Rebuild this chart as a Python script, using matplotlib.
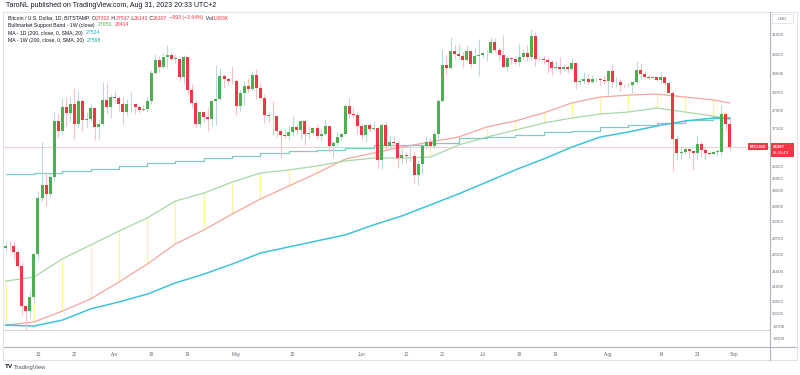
import matplotlib
matplotlib.use('Agg')
import matplotlib.pyplot as plt
from matplotlib.ticker import NullLocator
import numpy as np
import pandas as pd

plt.rcParams['font.family'] = ['Liberation Sans', 'DejaVu Sans']

# daily BTC/USD candles, Mar 5 - Aug 31 2023
dates = pd.date_range('2023-03-05', '2023-08-31', freq='D').to_numpy()

opens = [
    22350, 22430, 22410, 22200, 21700, 20360, 20190, 20630, 22140, 24200, 24750, 24380, 25050, 27440,
    26970, 28040, 27780, 28170, 27300, 28330, 27480, 27490, 27990, 27140, 27270, 28350, 28030,
    28480, 28460, 28200, 27800, 28170, 28170, 28040, 27920, 27950, 28330, 29650, 30240, 29900, 30400,
    30490, 30320, 30320, 29450, 30400, 28820, 28250, 27280, 27820, 27590, 27520, 28300, 28420, 29470,
    29340, 29250,
    29230, 28070, 28680, 29030, 28850, 29530, 28900, 28450, 27690, 27650, 27620, 26990, 26800, 26780,
    26930, 27170, 27030, 27400, 26830, 26890, 27120, 26750, 26850, 27220, 26330, 26480, 26720, 26870,
    28080, 27740, 27700,
    27220, 26820, 27250, 27070, 27120, 25760, 27240, 26350, 26500, 26480, 25850, 25940, 25900, 25930,
    25120, 25580, 26340, 26510, 26340, 26850, 28310, 30000, 29890, 30690, 30550, 30470, 30270, 30690,
    30080, 30450,
    30480, 30590, 30620, 31160, 30770, 30510, 29900, 30350, 30290, 30170, 30410, 30620, 30390, 31470,
    30320, 30300, 30250, 30140, 29860, 29910, 29800, 29910, 29800, 30090, 29180, 29230, 29350, 29220,
    29320, 29350, 29280,
    29230, 29700, 29180, 29180, 29080, 29050, 29040, 29180, 29770, 29580, 29430, 29400, 29420, 29280,
    29420, 29170, 28700, 26620, 26050, 26100, 26190, 26120, 26040, 26430, 26160, 26050, 26010, 26090,
    26100, 27720, 27302,
]
highs = [
    22600, 22600, 22550, 22270, 21830, 20370, 20860, 22170, 24500, 26500, 25250, 25200, 27800, 27750,
    28450, 28500, 28500, 28900, 28780, 28400, 27800, 28200, 28050, 27500, 29180, 29170, 28650,
    28800, 28530, 28480, 28420, 28750, 28200, 28120, 28150, 28500, 29770, 30550, 30440, 30600, 31000,
    30600, 30560, 30320, 30480, 30420, 29090, 28380, 27880, 27820, 28000, 28380, 30000, 29880, 29570,
    29450, 29950,
    29330, 28880, 29250, 29370, 29700, 29820, 29150, 28630, 27840, 28330, 27630, 27050, 27050, 27180,
    27650, 27300, 27480, 27470, 27190, 27150, 27270, 27060, 27500, 27220, 26530, 26930, 26900, 28200,
    28450, 28050, 27830,
    27340, 27300, 27330, 27440, 27140, 27350, 27370, 26800, 26780, 26530, 26200, 26100, 26420, 26100,
    25740, 26480, 26780, 26700, 26970, 28400, 30790, 30500, 31400, 31000, 31050, 30660, 31000, 30700,
    30850, 31280,
    30660, 30790, 31390, 31330, 30880, 31500, 30450, 30390, 30440, 31050, 30800, 30980, 31820, 31640,
    30400, 30460, 30340, 30240, 30200, 30410, 30050, 29990, 30350, 30090, 29380, 29690, 29570, 29530,
    29410, 29450, 29520,
    29750, 30050, 29430, 29320, 29110, 29170, 29250, 30200, 30130, 29730, 29540, 29470, 29460, 29680,
    29460, 29230, 28800, 26800, 26300, 26280, 26250, 26130, 26800, 26560, 26300, 26100, 26180, 26230,
    28150, 27760, 27537,
]
lows = [
    22200, 22260, 21930, 21590, 20050, 19570, 19950, 20460, 21900, 24100, 23900, 24200, 24900, 26700,
    26860, 27200, 27400, 26650, 27160, 27000, 27170, 27400, 26600, 26650, 27250, 27750, 27550,
    28250, 27870, 27270, 27680, 27800, 27730, 27780, 27880, 27800, 28180, 29600, 29660, 29850, 29880,
    30230, 30130, 29270, 29100, 28630, 28020, 27150, 27150, 27360, 26970, 27220, 27250, 28380, 28900,
    29060, 29100,
    27700, 27870, 28150, 28680, 28810, 28400, 28400, 27320, 27370, 26800, 26720, 25820, 26700, 26600,
    26750, 26860, 26620, 26400, 26650, 26830, 26650, 26540, 26820, 26100, 25870, 26330, 26560, 26800,
    27560, 27560, 26850,
    26610, 26520, 26920, 26960, 25400, 25360, 26150, 26230, 26290, 25400, 25600, 25630, 25720, 24820,
    24750, 25170, 26200, 26300, 26270, 26650, 28260, 29560, 29820, 30300, 30280, 29930, 30220, 29870,
    30050, 29500,
    30330, 30230, 30570, 30640, 30200, 29850, 29700, 30050, 30070, 29950, 30300, 30200, 30250, 29950,
    30250, 30080, 29650, 29520, 29770, 29580, 29740, 29650, 29730, 28870, 29070, 29100, 29100, 29130,
    29250, 29050, 29100,
    28600, 28950, 28970, 28780, 28960, 28960, 28700, 29120, 29360, 29320, 29340, 29360, 29250, 29100,
    29060, 28700, 25300, 25750, 25800, 26000, 25830, 25350, 25800, 25870, 25780, 25970, 25980, 25900,
    25920, 27030, 26143,
]
closes = [
    22430, 22410, 22200, 21700, 20360, 20190, 20630, 22140, 24200, 24750, 24380, 25050, 27440, 26970,
    28040, 27780, 28170, 27300, 28330, 27480, 27490, 27990, 27140, 27270, 28350, 28030, 28480,
    28460, 28200, 27800, 28170, 28170, 28040, 27920, 27950, 28330, 29650, 30240, 29900, 30400, 30490,
    30320, 30320, 29450, 30400, 28820, 28250, 27280, 27820, 27590, 27520, 28300, 28420, 29470, 29340,
    29250, 29230,
    28070, 28680, 29030, 28850, 29530, 28900, 28450, 27690, 27650, 27620, 26990, 26800, 26780, 26930,
    27170, 27030, 27400, 26830, 26890, 27120, 26750, 26850, 27220, 26330, 26480, 26720, 26870, 28080,
    27740, 27700, 27220,
    26820, 27250, 27070, 27120, 25760, 27240, 26350, 26500, 26480, 25850, 25940, 25900, 25930, 25120,
    25580, 26340, 26510, 26340, 26850, 28310, 30000, 29890, 30690, 30550, 30470, 30270, 30690, 30080,
    30450, 30480,
    30590, 30620, 31160, 30770, 30510, 29900, 30350, 30290, 30170, 30410, 30620, 30390, 31470, 30320,
    30300, 30250, 30140, 29860, 29910, 29800, 29910, 29800, 30090, 29180, 29230, 29350, 29220, 29320,
    29350, 29280, 29230,
    29700, 29180, 29180, 29080, 29050, 29040, 29180, 29770, 29580, 29430, 29400, 29420, 29280, 29420,
    29170, 28700, 26620, 26050, 26100, 26190, 26120, 26040, 26430, 26160, 26050, 26010, 26090, 26100,
    27720, 27300, 26307,
]

# weekly points (Sundays) for the 1W indicators, plus the last bar
week_dates = pd.date_range('2023-03-05', '2023-08-27', freq='7D').to_numpy()
line_dates = np.append(week_dates, np.datetime64('2023-08-31'))
sma20w = [19730, 19830, 20180, 20580, 21150, 21770, 22490, 23000, 23600, 24180, 24690, 25210, 25790,
          26040, 26290, 26510, 26720, 27160, 27420, 27780, 28230, 28500, 28590, 28640, 28500, 28370, 28230]
ema21w = [21180, 21320, 21950, 22450, 22960, 23450, 24100, 24410, 24850, 25210, 25340, 25500, 25710,
          25830, 25830, 25870, 26380, 26720, 27020, 27330, 27550, 27730, 27820, 28000, 27820, 27640, 27510]
ma200d = [19730, 19700, 19890, 20250, 20480, 20740, 21120, 21420, 21770, 22160, 22380, 22600, 22820,
          23190, 23530, 23950, 24380, 24850, 25340, 25790, 26290, 26720, 26940, 27200, 27420, 27550, 27524]
ma200w = [25170, 25230, 25310, 25380, 25500, 25610, 25710, 25830, 25920, 26040, 26130, 26170, 26250,
          26380, 26400, 26460, 26680, 26720, 26810, 26940, 26980, 27160, 27240, 27330, 27460, 27598, 27598]

price_ticks = [31500, 30500, 29600, 28700, 27900, 27100, 25500, 25000, 24500, 23900, 23300, 22700,
               22100, 21500, 21000, 20500, 20100, 19700, 19300]
date_ticks = ['2023-03-13', '2023-03-22', '2023-04-01', '2023-04-10', '2023-04-19', '2023-05-01',
              '2023-05-15', '2023-06-01', '2023-06-12', '2023-06-21', '2023-07-01', '2023-07-10',
              '2023-07-19', '2023-08-01', '2023-08-14', '2023-08-23', '2023-09-01']
date_labels = ['13', '22', 'Apr', '10', '19', 'May', '15', 'Jun', '12', '21', 'Jul', '10', '19',
               'Aug', '14', '23', 'Sep']
last_price = 26307
level_line = 19575

UP = '#4caf50'
DOWN = '#f23645'
DARK = '#131722'
GREY = '#6a6d78'

W, H = 800, 375
fig = plt.figure(figsize=(8, 3.75), dpi=100)
ax = fig.add_axes([3 / W, 1 - 347 / H, 767 / W, 334 / H])

o = np.array(opens, float)
h = np.array(highs, float)
l = np.array(lows, float)
c = np.array(closes, float)
up = c >= o

# indicators
ax.vlines(week_dates, ema21w[:-1], sma20w[:-1], color='#fff59d', lw=0.9, zorder=1)
ax.plot(line_dates, sma20w, color='#f7a5a0', lw=0.9, zorder=2)
ax.plot(line_dates, ema21w, color='#a8d8a8', lw=0.9, zorder=2)
ax.plot(line_dates, ma200w, color='#80cbc4', lw=0.9, drawstyle='steps-post', zorder=2)
ax.plot(line_dates, ma200d, color='#3ec3dc', lw=1.1, zorder=2)
ax.axhline(level_line, color='#d6d6d6', lw=0.8, zorder=1)
ax.axhline(last_price, color='#f9cdd1', lw=0.8, zorder=1)

# candles
ax.vlines(dates[up], l[up], h[up], color='#bcdadd', lw=0.8, zorder=3)
ax.vlines(dates[~up], l[~up], h[~up], color='#f6c3c8', lw=0.8, zorder=3)
body = np.maximum(np.abs(c - o), 18)
ax.bar(dates, body, bottom=np.minimum(o, c), width=0.74,
       color=np.where(up, UP, DOWN), zorder=4)

ax.set_yscale('log')
ax.set_ylim(19045, 32637)
t0 = pd.Timestamp('2023-03-13')
ax.set_xlim(t0 - pd.Timedelta(days=8.65), t0 + pd.Timedelta(days=181))

ax.yaxis.tick_right()
ax.yaxis.set_minor_locator(NullLocator())
ax.set_yticks(price_ticks)
ax.set_yticklabels([str(v) for v in price_ticks])
ax.set_xticks(pd.to_datetime(date_ticks).to_numpy())
ax.set_xticklabels(date_labels)
ax.tick_params(axis='y', length=0, pad=1.6, labelsize=3.2, colors=GREY)
ax.tick_params(axis='x', length=0, pad=3.5, labelsize=3.4, colors=GREY)
for s in ax.spines.values():
    s.set_visible(False)


def px(x, y):
    return x / W, 1 - y / H


def hline(y, x0, x1, color, lw=0.8):
    fig.add_artist(plt.Line2D([x0 / W, x1 / W], [1 - y / H, 1 - y / H], color=color, lw=lw))


def vline(x, y0, y1, color, lw=0.8):
    fig.add_artist(plt.Line2D([x / W, x / W], [1 - y0 / H, 1 - y1 / H], color=color, lw=lw))


# frame
hline(12, 3, 797, '#e0e3eb')
hline(347, 3, 797, '#b2b5be')
hline(360, 3, 797, '#e0e3eb')
vline(3, 12, 360, '#e0e3eb')
vline(797, 12, 360, '#e0e3eb')
vline(770, 12, 360, '#b2b5be')

renderer = fig.canvas.get_renderer()


def parts_text(x, y, parts, size=3.7):
    fx, fy = px(x, y)
    for s, col in parts:
        t = fig.text(fx, fy, s, color=col, fontsize=size, va='center', ha='left')
        bb = t.get_window_extent(renderer)
        fx += bb.width / fig.bbox.width


parts_text(6, 5.5, [('TaroNL published on TradingView.com, Aug 31, 2023 20:33 UTC+2', DARK)], 5)
parts_text(8, 18, [('Bitcoin / U.S. Dollar, 1D, BITSTAMP  O', DARK), ('27302', DOWN),
                   (' H', DARK), ('27537', DOWN), (' L', DARK), ('26143', DOWN),
                   (' C', DARK), ('26307', DOWN), (' \u2212993 (\u22123.64%)', DOWN),
                   ('  Vol', DARK), ('1.883K', DOWN)])
parts_text(8, 25, [('Bullmarket Support Band - 1W (close)  ', DARK), ('27650', UP),
                   ('  ', DARK), ('28414', DOWN)])
parts_text(8, 33, [('MA - 1D (200, close, 0, SMA, 20)  ', DARK), ('27524', '#00bcd4')])
parts_text(8, 40.5, [('MA - 1W (200, close, 0, SMA, 20)  ', DARK), ('27598', '#26a69a')])

# currency box on the price axis
fig.patches.append(plt.Rectangle(px(772, 23), 21 / W, 9 / H, transform=fig.transFigure,
                                 facecolor='white', edgecolor='#e0e3eb', lw=0.6))
fig.text(*px(782.5, 18.5), 'USD', fontsize=3.2, color=GREY, ha='center', va='center')

# last price labels
fig.patches.append(plt.Rectangle(px(748, 150), 20 / W, 7 / H, transform=fig.transFigure,
                                 facecolor=DOWN, edgecolor='none'))
fig.text(*px(758, 146.7), 'BTCUSD', fontsize=2.9, color='white', ha='center', va='center',
         weight='bold')
fig.patches.append(plt.Rectangle(px(771, 157), 23 / W, 14 / H, transform=fig.transFigure,
                                 facecolor=DOWN, edgecolor='none'))
fig.text(*px(773, 146.5), str(last_price), fontsize=3.2, color='white', ha='left', va='center',
         weight='bold')
fig.text(*px(773, 152.5), '05:26:49', fontsize=3.0, color='white', ha='left', va='center')

# footer logo
fig.text(*px(5, 367), 'TV', fontsize=4.6, color=DARK, weight='bold', ha='left', va='center')
fig.text(*px(13.5, 367), 'TradingView', fontsize=4.2, color='#50535e', ha='left', va='center')

fig.savefig('out.png', dpi=100, facecolor='white')
